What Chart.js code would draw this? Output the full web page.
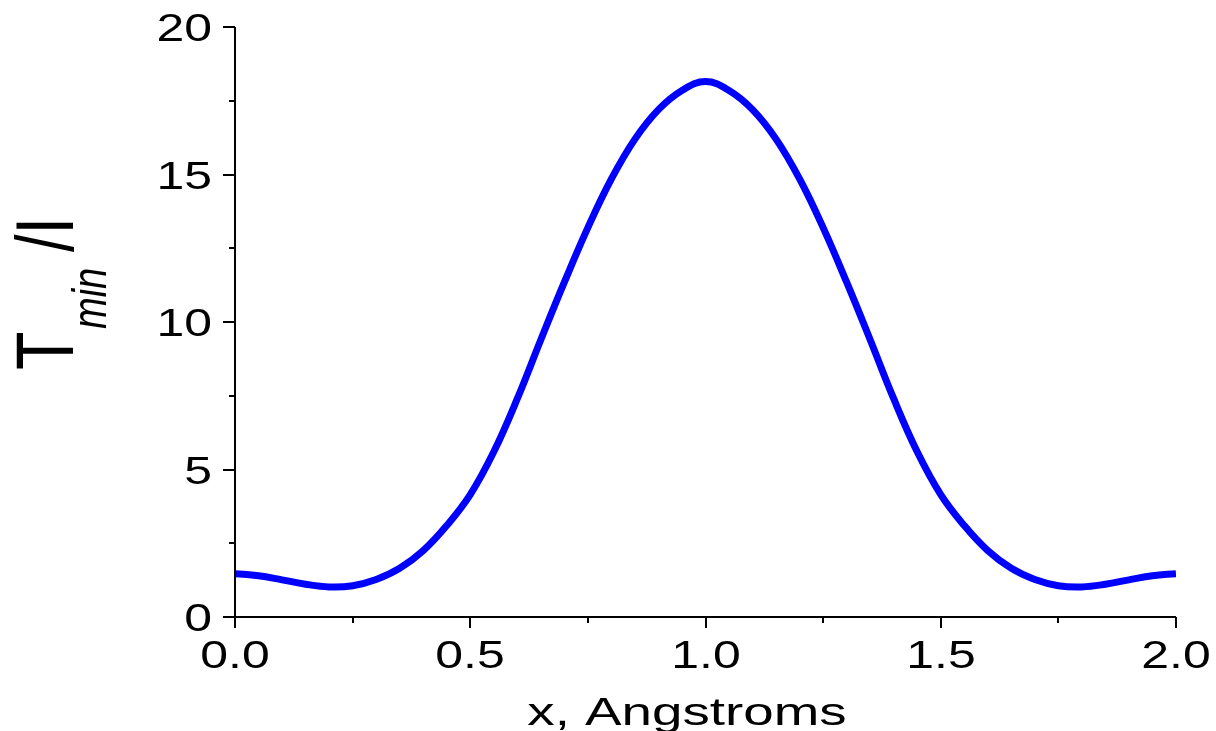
<!DOCTYPE html>
<html>
<head>
<meta charset="utf-8">
<script src="https://cdn.jsdelivr.net/npm/chart.js@4.4.1/dist/chart.umd.min.js"></script>
<style>
  html, body { margin: 0; padding: 0; background: #fff; }
  #wrap { width: 1216px; height: 731px; position: relative; }
</style>
</head>
<body>
<div id="wrap"><canvas id="tminChart"></canvas></div>
<script>
// data
const xValues = [0.00, 0.05, 0.10, 0.15, 0.20, 0.25, 0.30, 0.35, 0.40, 0.45,
                 0.50, 0.55, 0.60, 0.65, 0.70, 0.75, 0.80, 0.85, 0.90, 0.95,
                 1.00, 1.05, 1.10, 1.15, 1.20, 1.25, 1.30, 1.35, 1.40, 1.45,
                 1.50, 1.55, 1.60, 1.65, 1.70, 1.75, 1.80, 1.85, 1.90, 1.95, 2.00];
const tminValues = [1.47, 1.40, 1.26, 1.11, 1.02, 1.06, 1.27, 1.65, 2.25, 3.10,
                    4.15, 5.60, 7.40, 9.40, 11.35, 13.20, 14.85, 16.20, 17.20, 17.85,
                    18.15, 17.85, 17.20, 16.20, 14.85, 13.20, 11.35, 9.40, 7.40, 5.60,
                    4.15, 3.10, 2.25, 1.65, 1.27, 1.06, 1.02, 1.11, 1.26, 1.40, 1.47];

const xMajorTicks = [0, 0.5, 1.0, 1.5, 2.0];
const xTickLabels = ['0.0', '0.5', '1.0', '1.5', '2.0'];
const xMinorTicks = [0.25, 0.75, 1.25, 1.75];
const yMajorTicks = [0, 5, 10, 15, 20];
const yTickLabels = ['0', '5', '10', '15', '20'];
const yMinorTicks = [2.5, 7.5, 12.5, 17.5];

const FONT = '"Liberation Sans", Arial, sans-serif';
const STRETCH = 1.28; // the original text is drawn wide

function wideText(ctx, text, x, y, size, align, stretch) {
    stretch = stretch || STRETCH;
    ctx.save();
    ctx.font = size + 'px ' + FONT;
    const w = ctx.measureText(text).width * stretch;
    let left = x;
    if (align === 'center') left = x - w / 2;
    if (align === 'right') left = x - w;
    ctx.translate(left, y);
    ctx.scale(stretch, 1);
    ctx.textAlign = 'left';
    ctx.textBaseline = 'alphabetic';
    ctx.fillText(text, 0, 0);
    ctx.restore();
}

// axes, ticks and titles drawn by hand from the chart's own scales
const axesPlugin = {
    id: 'originAxes',
    afterDraw(chart) {
        const ctx = chart.ctx;
        const xs = chart.scales.x;
        const ys = chart.scales.y;
        const area = chart.chartArea;
        ctx.save();
        ctx.strokeStyle = '#000';
        ctx.fillStyle = '#000';
        ctx.lineWidth = 2;

        // axis lines
        ctx.beginPath();
        ctx.moveTo(area.left, area.top);
        ctx.lineTo(area.left, area.bottom);
        ctx.lineTo(area.right, area.bottom);
        ctx.stroke();

        // y ticks
        yMajorTicks.forEach((v, i) => {
            const py = Math.round(ys.getPixelForValue(v));
            ctx.beginPath();
            ctx.moveTo(area.left - 12, py);
            ctx.lineTo(area.left, py);
            ctx.stroke();
            wideText(ctx, yTickLabels[i], area.left - 23, py + 14, 39, 'right');
        });
        yMinorTicks.forEach(v => {
            const py = Math.round(ys.getPixelForValue(v));
            ctx.beginPath();
            ctx.moveTo(area.left - 6, py);
            ctx.lineTo(area.left, py);
            ctx.stroke();
        });

        // x ticks
        xMajorTicks.forEach((v, i) => {
            const px = Math.round(xs.getPixelForValue(v));
            ctx.beginPath();
            ctx.moveTo(px, area.bottom);
            ctx.lineTo(px, area.bottom + 11);
            ctx.stroke();
            wideText(ctx, xTickLabels[i], px, area.bottom + 51, 39, 'center');
        });
        xMinorTicks.forEach(v => {
            const px = Math.round(xs.getPixelForValue(v));
            ctx.beginPath();
            ctx.moveTo(px, area.bottom);
            ctx.lineTo(px, area.bottom + 6);
            ctx.stroke();
        });

        // x title
        wideText(ctx, 'x, Angstroms', 687, 725, 38, 'center', 1.44);

        // y title: T_min/I, rotated
        ctx.save();
        ctx.translate(73, 370);
        ctx.scale(STRETCH, 1);
        ctx.rotate(-Math.PI / 2);
        ctx.textAlign = 'left';
        ctx.textBaseline = 'alphabetic';
        ctx.font = '63px ' + FONT;
        ctx.fillText('T', 0, 0);
        ctx.font = 'italic 38px ' + FONT;
        ctx.fillText('min', 41, 26);
        ctx.font = '63px ' + FONT;
        ctx.fillText('/I', 118, 0);
        ctx.restore();

        ctx.restore();
    }
};

const points = xValues.map((x, i) => ({ x: x, y: tminValues[i] }));

new Chart(document.getElementById('tminChart'), {
    type: 'line',
    data: {
        datasets: [{
            data: points,
            borderColor: '#0000ff',
            borderWidth: 7,
            pointRadius: 0,
            fill: false,
            tension: 0.4
        }]
    },
    options: {
        responsive: true,
        maintainAspectRatio: false,
        animation: false,
        layout: { padding: { left: 235, right: 40, top: 27, bottom: 114 } },
        plugins: { legend: { display: false }, tooltip: { enabled: false } },
        scales: {
            x: { type: 'linear', min: 0, max: 2, display: false },
            y: { type: 'linear', min: 0, max: 20, display: false }
        }
    },
    plugins: [axesPlugin]
});
</script>
</body>
</html>
